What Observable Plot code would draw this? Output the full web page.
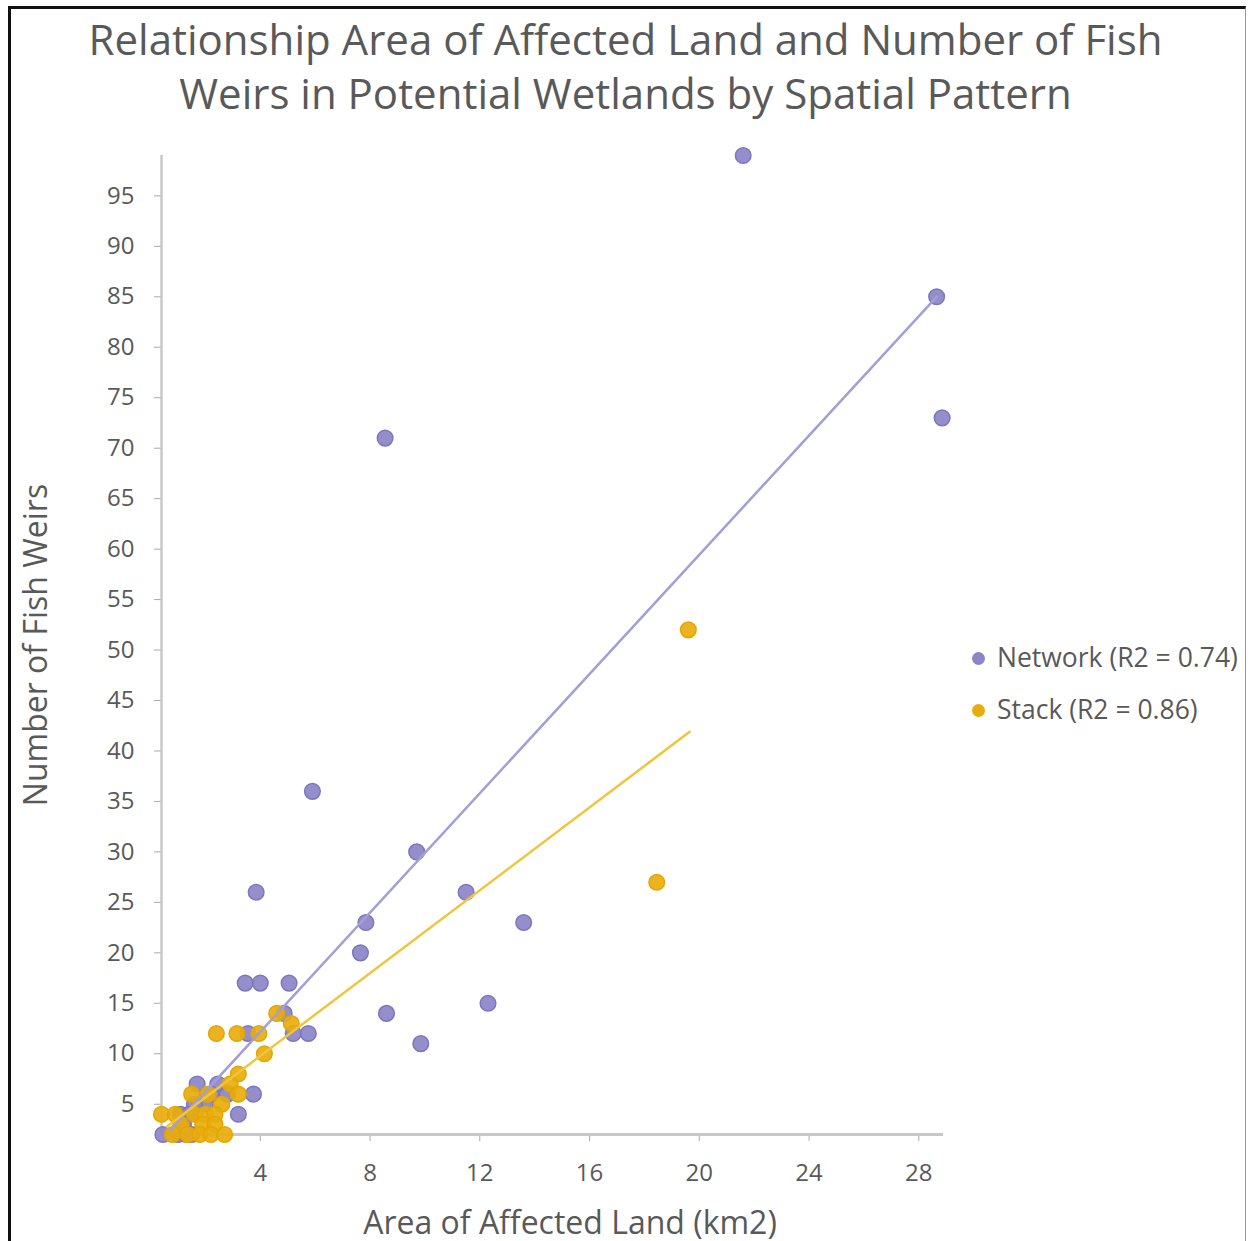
<!DOCTYPE html>
<html>
<head>
<meta charset="utf-8">
<script src="https://cdn.jsdelivr.net/npm/d3@7"></script>
<script src="https://cdn.jsdelivr.net/npm/@observablehq/plot@0.6"></script>
<style>
  html, body { margin: 0; padding: 0; background: #fff; }
  body { width: 1251px; height: 1241px; position: relative; overflow: hidden; font-family: "Open Sans", "Noto Sans", sans-serif; color: #595959; }
  #frame { position: absolute; left: 8px; top: 6px; width: 1238px; height: 1300px; border-left: 3px solid #111; border-top: 3px solid #111; border-right: 1px solid #999; box-sizing: border-box; }
  #title { position: absolute; left: 0; top: 12px; width: 1251px; text-align: center; font-size: 42px; line-height: 54px; color: #595959; }
  #chart { position: absolute; left: 0; top: 130px; }
  #xlabel { position: absolute; left: 270px; width: 600px; top: 1206px; text-align: center; font-size: 32px; line-height: 32px; color: #595959; }
  #ylabel { position: absolute; left: 35px; top: 645px; width: 500px; margin-left: -250px; margin-top: -20px; text-align: center; font-size: 32px; line-height: 40px; color: #595959; transform: rotate(-90deg); }
  .leg { position: absolute; left: 972px; font-size: 26.5px; line-height: 30px; color: #595959; white-space: nowrap; }
  .leg span.dot { display: inline-block; width: 13px; height: 13px; border-radius: 50%; margin-right: 12px; vertical-align: 2px; }
</style>
</head>
<body>
<div id="frame"></div>
<div id="title"></div>
<div id="chart"></div>
<div id="xlabel"></div>
<div id="ylabel"></div>
<div id="legend"></div>
<script>
// ---- Data ----
const titleLines = ["Relationship Area of Affected Land and Number of Fish", "Weirs in Potential Wetlands by Spatial Pattern"];
const xLabel = "Area of Affected Land (km2)";
const yLabel = "Number of Fish Weirs";
const seriesNames = ["Network (R2 = 0.74)", "Stack (R2 = 0.86)"];
const seriesColors = ["#8b85c7", "#e8ad0c"];
const lineColors = ["#a39ed7", "#f0c53e"];
const xTicks = [4, 8, 12, 16, 20, 24, 28];
const yTicks = [5, 10, 15, 20, 25, 30, 35, 40, 45, 50, 55, 60, 65, 70, 75, 80, 85, 90, 95];
const xDomain = [0.4, 28.9];
const yDomain = [2, 99];

// Network pattern: area (km2), number of fish weirs
const networkArea  = [21.6, 28.65, 28.85, 8.55, 5.9, 9.7, 3.85, 11.5, 7.85, 13.6, 7.65, 3.45, 4.0, 5.05, 12.3, 8.6, 9.85, 4.87, 5.2, 5.75, 3.55, 1.7, 2.45, 2.8, 3.75, 3.2, 2.0, 2.2, 1.6, 1.1, 1.4, 1.2, 0.45, 1.0, 1.3, 1.5];
const networkWeirs = [99, 85, 73, 71, 36, 30, 26, 26, 23, 23, 20, 17, 17, 17, 15, 14, 11, 14, 12, 12, 12, 7, 7, 6, 6, 4, 5, 6, 5, 4, 4, 3, 2, 2, 2, 2];

// Stack pattern
const stackArea  = [19.6, 18.45, 4.6, 5.13, 2.4, 3.15, 3.95, 4.15, 3.2, 2.9, 1.5, 2.1, 3.2, 2.6, 0.4, 0.9, 1.6, 2.0, 2.35, 1.1, 1.9, 2.35, 0.8, 1.35, 1.8, 2.2, 2.7];
const stackWeirs = [52, 27, 14, 13, 12, 12, 12, 10, 8, 7, 6, 6, 6, 5, 4, 4, 4, 4, 4, 3, 3, 3, 2, 2, 2, 2, 2];

// Trend lines (start/end)
const networkTrendArea  = [0.73, 28.65];
const networkTrendWeirs = [2.5, 85];
const stackTrendArea  = [0.6, 19.65];
const stackTrendWeirs = [2.8, 41.9];

// ---- Build tables ----
const network = networkArea.map((x, i) => ({x, y: networkWeirs[i]}));
const stack = stackArea.map((x, i) => ({x, y: stackWeirs[i]}));
const networkTrend = networkTrendArea.map((x, i) => ({x, y: networkTrendWeirs[i]}));
const stackTrend = stackTrendArea.map((x, i) => ({x, y: stackTrendWeirs[i]}));

document.getElementById("title").innerHTML = titleLines.join("<br>");
document.getElementById("xlabel").textContent = xLabel;
document.getElementById("ylabel").textContent = yLabel;
const legend = document.getElementById("legend");
seriesNames.forEach((name, i) => {
  const d = document.createElement("div");
  d.className = "leg";
  d.style.top = (642 + i * 52) + "px";
  d.innerHTML = `<span class="dot" style="background:${seriesColors[i]}"></span>${name}`;
  legend.appendChild(d);
});

const chart = Plot.plot({
  width: 960,
  height: 1111,
  marginLeft: 161,
  marginRight: 17,
  marginTop: 25,
  marginBottom: 107,
  style: {fontFamily: "'Open Sans', 'Noto Sans', sans-serif", background: "transparent"},
  x: {domain: xDomain},
  y: {domain: yDomain},
  marks: [
    Plot.axisY({ticks: yTicks, tickSize: 7, tickPadding: 20, stroke: "#aaa", fill: "#595959", fontSize: 24, label: null}),
    Plot.axisX({ticks: xTicks, tickSize: 7, tickPadding: 22, stroke: "#aaa", fill: "#595959", fontSize: 24, label: null}),
    Plot.ruleX([xDomain[0]], {stroke: "#c8c8c8", strokeWidth: 2.5}),
    Plot.ruleY([yDomain[0]], {stroke: "#c8c8c8", strokeWidth: 3}),
    Plot.dot(network, {x: "x", y: "y", r: 7.8, fill: seriesColors[0], fillOpacity: 0.92, stroke: "#7d76bf", strokeWidth: 1.5}),
    Plot.dot(stack, {x: "x", y: "y", r: 7.8, fill: seriesColors[1], fillOpacity: 0.92, stroke: "#e3a700", strokeWidth: 1.5}),
    Plot.line(networkTrend, {x: "x", y: "y", stroke: lineColors[0], strokeWidth: 2.5}),
    Plot.line(stackTrend, {x: "x", y: "y", stroke: lineColors[1], strokeWidth: 2.5})
  ]
});
document.getElementById("chart").appendChild(chart);
</script>
</body>
</html>
